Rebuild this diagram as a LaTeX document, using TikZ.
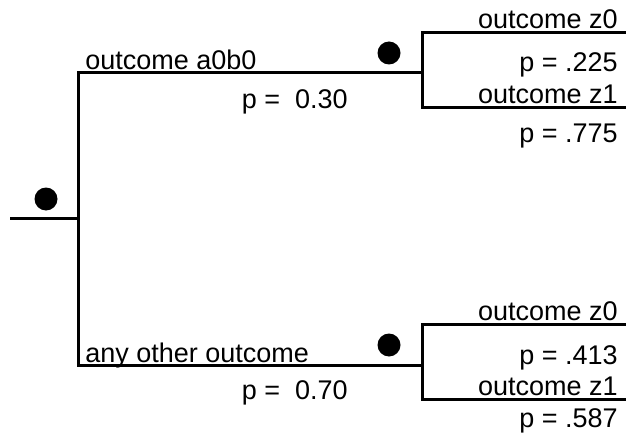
\documentclass[tikz,border=0pt]{standalone}
\usepackage{fontspec}
\setmainfont{Liberation Sans}
\usetikzlibrary{positioning}

\begin{document}
\begin{tikzpicture}
    [
        x=0.5pt, y=-0.5pt,
        branch/.style={line width=1.5pt, color=black},
        chance_dot/.style={circle, fill=black, inner sep=0pt, minimum size=11.5pt},
        left_label/.style={anchor=base west, inner sep=0pt, font=\fontsize{13.5}{15}\selectfont},
        right_label/.style={anchor=base east, inner sep=0pt, font=\fontsize{13.5}{15}\selectfont},
    ]
        \useasboundingbox (0,0) rectangle (626,433) ;
        % tree points
        \coordinate (start) at (10,218) ;
        \coordinate (root) at (78,218) ;
        \coordinate (fork_a) at (422,73) ;
        \coordinate (fork_b) at (422,365) ;
        \coordinate (a_z0) at (626,33) ;
        \coordinate (a_z1) at (626,108) ;
        \coordinate (b_z0) at (626,324) ;
        \coordinate (b_z1) at (626,399) ;
        % chance nodes
        \node[chance_dot] (c_root) at (46,199) {} ;
        \node[chance_dot] (c_a) at (389,53) {} ;
        \node[chance_dot] (c_b) at (389,345) {} ;
        % branches
        \draw[branch] (start) -- (root) ;
        \draw[branch] (root) |- (fork_a) ;
        \draw[branch] (root) |- (fork_b) ;
        \draw[branch] (fork_a) |- (a_z0) ;
        \draw[branch] (fork_a) |- (a_z1) ;
        \draw[branch] (fork_b) |- (b_z0) ;
        \draw[branch] (fork_b) |- (b_z1) ;
        % labels
        \node[left_label] (l_a) at (85,70) {outcome a0b0} ;
        \node[right_label] (p_a) at (348,109) {p =\ \ 0.30} ;
        \node[left_label] (l_b) at (85,362) {any other outcome} ;
        \node[right_label] (p_b) at (348,399) {p =\ \ 0.70} ;
        \node[right_label] (l_a_z0) at (618,29) {outcome z0} ;
        \node[right_label] (p_a_z0) at (618,72) {p = .225} ;
        \node[right_label] (l_a_z1) at (618,104) {outcome z1} ;
        \node[right_label] (p_a_z1) at (618,142) {p = .775} ;
        \node[right_label] (l_b_z0) at (618,320) {outcome z0} ;
        \node[right_label] (p_b_z0) at (618,364) {p = .413} ;
        \node[right_label] (l_b_z1) at (618,395) {outcome z1} ;
        \node[right_label] (p_b_z1) at (618,427) {p = .587} ;
    \end{tikzpicture}
\end{document}
